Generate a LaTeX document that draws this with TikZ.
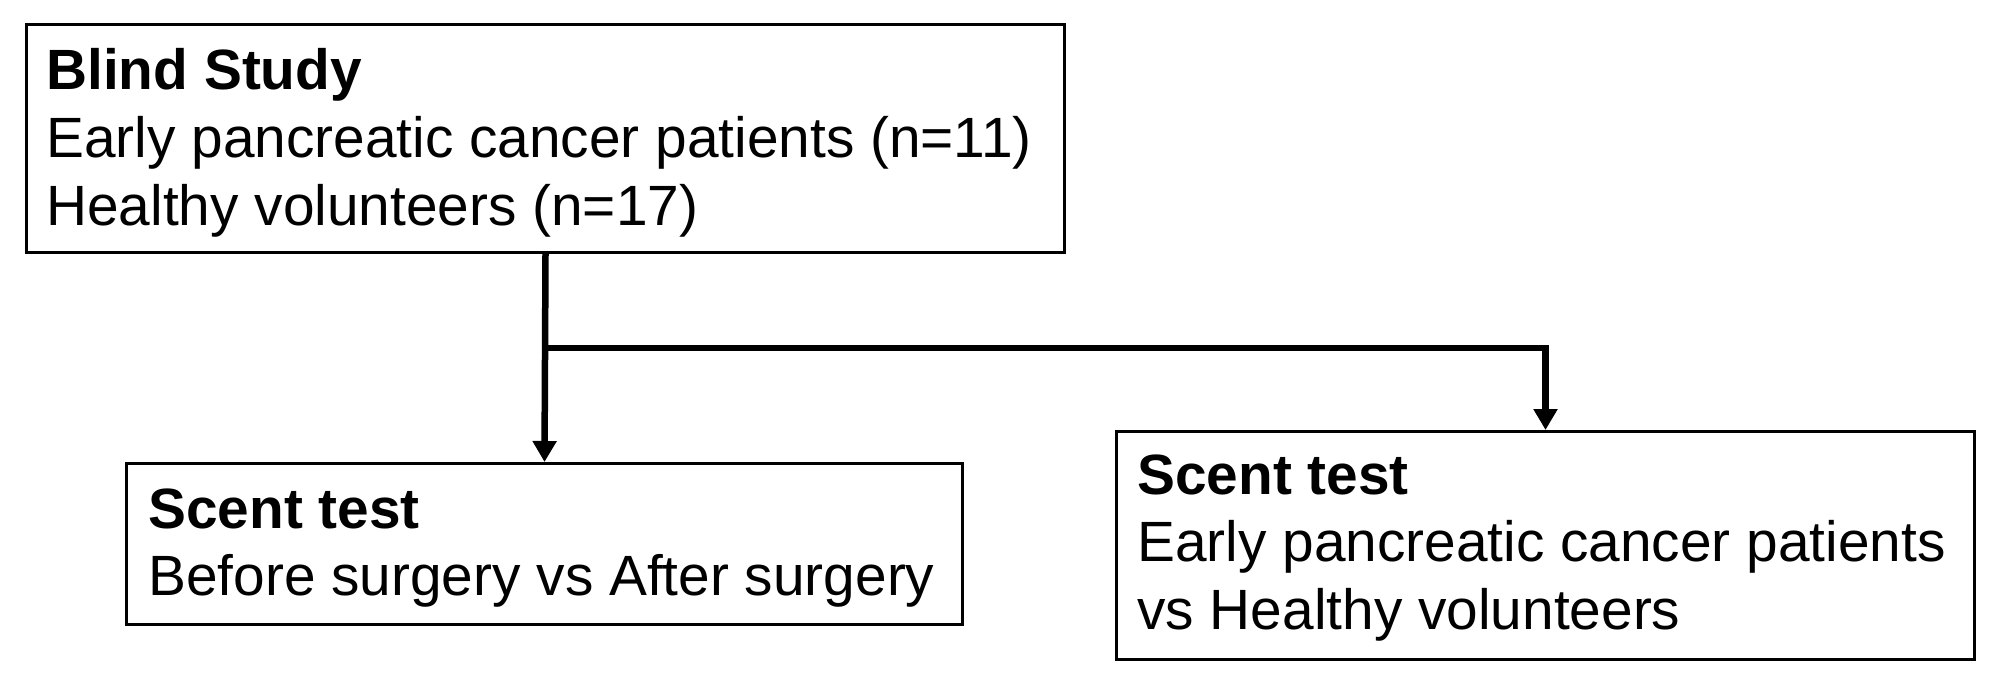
\documentclass[tikz,border=0pt]{standalone}
\usepackage{fontspec}
\setmainfont{Liberation Sans}
\usetikzlibrary{arrows.meta}

\begin{document}
\begin{tikzpicture}[x=0.5pt,y=0.5pt,yscale=-1,
  box/.style={draw, line width=1.5pt, anchor=north west, inner sep=0pt},
  txt/.style={anchor=base west, inner sep=0pt, font=\fontsize{28.4}{34}\selectfont},
  head/.style={txt, font=\fontsize{28.4}{34}\selectfont\bfseries},
  flow/.style={line width=3.25pt, -{Triangle[length=10.5pt,width=11.5pt]}}]
\useasboundingbox (0,0) rectangle (2000,684);

%Boxes
\node[box, minimum width=519pt, minimum height=114pt] (study) at (25,23) {};
\node[box, minimum width=418pt, minimum height=80.5pt] (pre) at (125,462) {};
\node[box, minimum width=429pt, minimum height=114pt] (cmp) at (1115,430) {};

% Text Node
\node[head] (studyhead) at (46,90) {Blind Study};
\node[txt] (studyline1) at (46,158) {Early pancreatic cancer patients (n=11)};
\node[txt] (studyline2) at (46,226) {Healthy volunteers (n=17)};
% Text Node
\node[head] (prehead) at (148,528) {Scent test};
\node[txt] (preline1) at (148,595) {Before surgery vs After surgery};
% Text Node
\node[head] (cmphead) at (1137,494) {Scent test};
\node[txt] (cmpline1) at (1137,561) {Early pancreatic cancer patients};
\node[txt] (cmpline2) at (1137,629) {vs Healthy volunteers};

%Connectors
\coordinate (forkrow) at (0,348);
\draw[flow] (study.south) -- (pre.north);
\draw[flow] (study.south |- forkrow) -| (cmp.north);

\end{tikzpicture}
\end{document}
